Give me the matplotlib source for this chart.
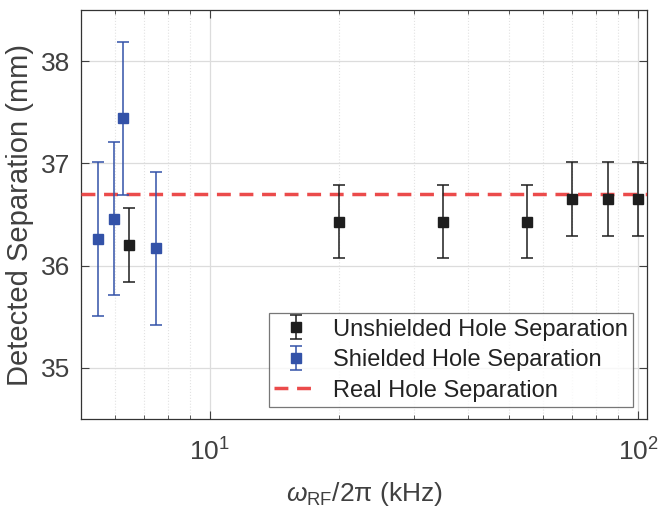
import numpy as np
import matplotlib
matplotlib.use('Agg')
import matplotlib.pyplot as plt
import matplotlib.ticker as ticker

plt.rcParams['font.family'] = ['Liberation Sans', 'DejaVu Sans']
plt.rcParams['mathtext.fontset'] = 'custom'
plt.rcParams['mathtext.rm'] = 'Liberation Sans'
plt.rcParams['mathtext.it'] = 'Liberation Sans:italic'

# Data
unshielded_f = [6.47, 20, 35, 55, 70, 85, 100]
unshielded_sep = [36.20, 36.43, 36.43, 36.43, 36.65, 36.65, 36.65]
unshielded_err = [0.36, 0.36, 0.36, 0.36, 0.36, 0.36, 0.36]

shielded_f = [5.48, 5.97, 6.27, 7.47]
shielded_sep = [36.26, 36.46, 37.44, 36.17]
shielded_err = [0.75, 0.75, 0.75, 0.75]

real_sep = 36.7

txt = '#404040'
blue = '#3352A8'
black = '#1E1E1E'
red = '#EB4B4B'

fig = plt.figure(figsize=(6.6, 5.17), dpi=100)
ax = fig.add_axes([81/660, 1 - 419/517, (647-81)/660, (419-10)/517])

h1 = ax.errorbar(unshielded_f, unshielded_sep, yerr=unshielded_err, fmt='s', color=black,
                 ms=7, capsize=4.5, elinewidth=1.1, capthick=1.1, zorder=4,
                 label='Unshielded Hole Separation')
h2 = ax.errorbar(shielded_f, shielded_sep, yerr=shielded_err, fmt='s', color=blue,
                 ms=7, capsize=4.5, elinewidth=1.1, capthick=1.1, zorder=4,
                 label='Shielded Hole Separation')
h3 = ax.axhline(real_sep, color=red, ls=(0, (4, 2.5)), lw=2.5, zorder=3,
                label='Real Hole Separation')

ax.set_xscale('log')
ax.set_xlim(5, 105)
ax.set_ylim(34.5, 38.5)
ax.yaxis.set_major_locator(ticker.MultipleLocator(1))
ax.yaxis.set_minor_locator(ticker.NullLocator())
ax.xaxis.set_major_locator(ticker.LogLocator(base=10, numticks=5))
ax.xaxis.set_minor_locator(ticker.LogLocator(base=10, subs=np.arange(2, 10), numticks=20))
ax.xaxis.set_minor_formatter(ticker.NullFormatter())

ax.grid(which='major', color='#DCDCDC', lw=0.9, zorder=0)
ax.grid(which='minor', axis='x', color='#E2E2E2', lw=0.8, ls=':', zorder=0)
ax.set_axisbelow(True)

ax.tick_params(which='both', direction='in', top=True, right=True, colors=txt,
               labelcolor=txt, labelsize=19)
ax.tick_params(which='major', length=6, width=0.8)
ax.tick_params(which='minor', length=3, width=0.6)
ax.tick_params(axis='x', pad=14)
ax.tick_params(axis='y', pad=8)
for s in ax.spines.values():
    s.set_color('#333333')
    s.set_linewidth(0.9)

ax.set_ylabel('Detected Separation (mm)', fontsize=21, color=txt, labelpad=5)
ax.set_xlabel(r'$\omega_{\mathrm{RF}}$/2π (kHz)', fontsize=19, color=txt, labelpad=10)

leg = ax.legend([h1, h2, h3], [h1.get_label(), h2.get_label(), h3.get_label()],
                loc='lower right', bbox_to_anchor=(0.976, 0.03), fontsize=17,
                frameon=True, fancybox=False, edgecolor='#555555',
                handlelength=1.85, handletextpad=0.65, borderpad=0.22,
                labelspacing=0.36, borderaxespad=0)
leg.get_frame().set_linewidth(0.9)
for t in leg.get_texts():
    t.set_color('#222222')

fig.savefig('out.png', dpi=100)
